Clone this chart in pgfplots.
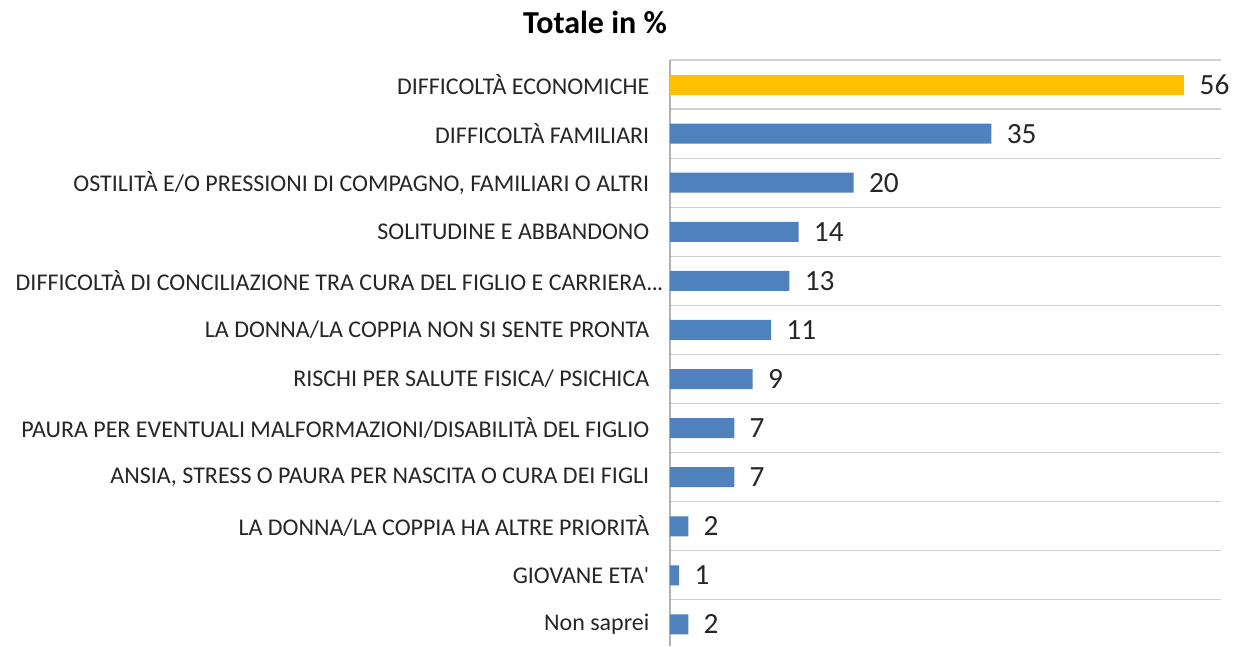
\documentclass[border=0pt]{standalone}
\usepackage{fontspec}
\setmainfont{Carlito}
\usepackage{pgfplots}
\pgfplotsset{compat=1.18}

\definecolor{barblue}{HTML}{4F81BD}
\definecolor{barorange}{HTML}{FFC000}
\definecolor{gridgray}{HTML}{D0D0D0}

\begin{document}
\begin{tikzpicture}
\begin{axis}[
    name=ax,
    scale only axis,
    width=413.25pt,
    height=439.5pt,
    xbar,
    bar width=15pt,
    bar shift=0pt,
    xmin=0, xmax=60,
    ymin=-0.5, ymax=11.44,
    y dir=reverse,
    axis x line=none,
    axis y line*=left,
    y axis line style={draw=gray!60, line width=0.8pt},
    xtick=\empty,
    ytick={0,1,2,3,4,5,6,7,8,9,10,11},
    yticklabels={
        {DIFFICOLTÀ ECONOMICHE},
        {DIFFICOLTÀ FAMILIARI},
        {OSTILITÀ E/O PRESSIONI DI COMPAGNO, FAMILIARI O ALTRI},
        {SOLITUDINE E ABBANDONO},
        {DIFFICOLTÀ DI CONCILIAZIONE TRA CURA DEL FIGLIO E CARRIERA.\kern-0.5pt.\kern-0.5pt.\kern-10.5pt},
        {LA DONNA/LA COPPIA NON SI SENTE PRONTA},
        {RISCHI PER SALUTE FISICA/ PSICHICA},
        {PAURA PER EVENTUALI MALFORMAZIONI/DISABILITÀ DEL FIGLIO},
        {ANSIA, STRESS O PAURA PER NASCITA O CURA DEI FIGLI},
        {LA DONNA/LA COPPIA HA ALTRE PRIORITÀ},
        {GIOVANE ETA\textquotesingle},
        {Non saprei}},
    major tick length=0pt,
    minor tick length=0pt,
    minor ytick={-0.5,0.5,1.5,2.5,3.5,4.5,5.5,6.5,7.5,8.5,9.5,10.5},
    yminorgrids=true,
    minor grid style={draw=gridgray, line width=0.9pt},
    yticklabel style={font=\fontsize{18}{20}\selectfont, color=black!85, anchor=east, xshift=-12pt},
    nodes near coords,
    nodes near coords style={font=\fontsize{22}{24}\selectfont, color=black!85, anchor=west, xshift=8pt,
        /pgf/number format/assume math mode=true},
    clip=false,
]
\addplot[fill=barorange, draw=none] coordinates {(56,0)};
\addplot[fill=barblue, draw=none] coordinates {
    (35,1) (20,2) (14,3) (13,4) (11,5) (9,6) (7,7) (7,8) (2,9) (1,10) (2,11)};
\node[font=\bfseries\fontsize{24}{26}\selectfont, anchor=center]
    at (rel axis cs:-0.136,1.065) {Totale in \%};
\end{axis}
\pgfresetboundingbox
\path[use as bounding box] ([xshift=-502.5pt]ax.south west) rectangle ([xshift=10.5pt,yshift=45pt]ax.north east);
\end{tikzpicture}
\end{document}
